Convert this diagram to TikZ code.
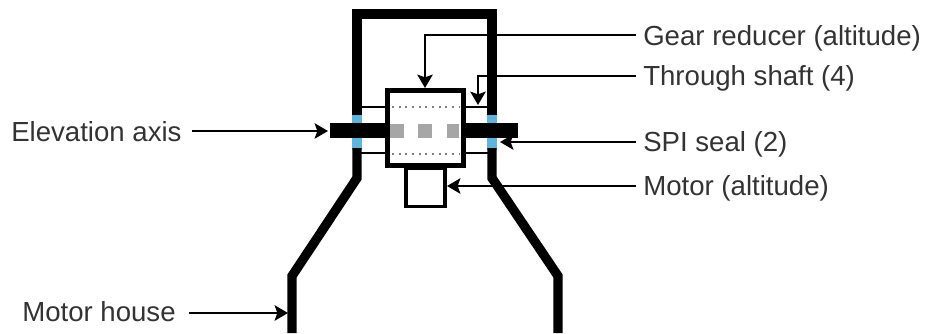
\documentclass[tikz,border=0pt]{standalone}
\usepackage{fontspec}
\setmainfont{Liberation Sans}
\usepackage{xcolor}
\usetikzlibrary{arrows.meta}
\definecolor{sealblue}{RGB}{95,180,220}

\begin{document}
\begin{tikzpicture}[x=0.75pt, y=-0.75pt,
                    wall/.style={line width=7pt, line cap=butt, miter limit=10},
                    thinwall/.style={line width=1.9pt},
                    pointer/.style={line width=1.8pt, -{Stealth[length=10pt, width=11.5pt, inset=2pt]}},
                    label/.style={anchor=base west, inner sep=0pt, font=\fontsize{20.7}{24}\selectfont, text=black!80}]
  \useasboundingbox (0, 0) rectangle (928, 333);
  % shaft and seals
  \draw[line width=7.5pt, sealblue] (357, 112) -- (357, 150);
  \draw[line width=7.5pt, sealblue] (492, 112) -- (492, 150);
  \draw[thinwall] (360, 107) -- (387, 107);
  \draw[thinwall] (360, 153) -- (387, 153);
  \draw[thinwall] (464, 107) -- (489, 107);
  \draw[thinwall] (464, 153) -- (489, 153);
  % motor house
  \draw[wall] (357, 115) -- (357, 14) -- (492, 14) -- (492, 115);
  \draw[wall] (357, 148) -- (357, 178) -- (292, 276) -- (292, 333);
  \draw[wall] (492, 148) -- (492, 178) -- (558, 276) -- (558, 333);
  \draw[line width=11pt] (330, 130.5) -- (387, 130.5);
  \draw[line width=11pt] (464, 130.5) -- (518, 130.5);
  % motor and gear reducer
  \node[draw, line width=2.8pt, minimum width=29pt, minimum height=29pt, inner sep=0pt, anchor=north] (motor) at (425.5, 166) {};
  \node[draw, line width=3.5pt, minimum width=57pt, minimum height=56pt, inner sep=0pt, fill=white] (reducer) at (425.5, 128) {};
  \draw[line width=1pt, black!50, dash pattern=on 1.5pt off 3.5pt] (392, 107) -- (459, 107);
  \draw[line width=1pt, black!50, dash pattern=on 1.5pt off 3.5pt] (392, 154) -- (459, 154);
  \draw[line width=10pt, black!35, dash pattern=on 10.5pt off 10.7pt] (390, 131) -- (459, 131);
  % labels
  \node[label] (gearlabel) at (643, 45) {Gear reducer (altitude)};
  \node[label] (shaftlabel) at (643, 85) {Through shaft (4)};
  \node[label] (seallabel) at (643, 151) {SPI seal (2)};
  \node[label] (motorlabel) at (643, 195) {Motor (altitude)};
  \node[label] (axislabel) at (11, 141) {Elevation axis};
  \node[label] (houselabel) at (22, 321) {Motor house};
  \coordinate (gearend) at (425, 88);
  \coordinate (shaftend) at (478, 105);
  \coordinate (sealend) at (500, 142);
  \coordinate (motorend) at (447, 186);
  \coordinate (axisend) at (328, 131);
  \coordinate (houseend) at (288, 313);
  % pointers
  \draw[pointer] (gearlabel.west |- 0, 35) ++(-7, 0) -| (gearend);
  \draw[pointer] (shaftlabel.west |- 0, 76) ++(-7, 0) -| (shaftend);
  \draw[pointer] (seallabel.west |- 0, 142) ++(-7, 0) -- (sealend);
  \draw[pointer] (motorlabel.west |- 0, 186) ++(-7, 0) -- (motorend);
  \draw[pointer] (axislabel.east |- 0, 131) ++(10, 0) -- (axisend);
  \draw[pointer] (houselabel.east |- 0, 313) ++(13, 0) -- (houseend);
\end{tikzpicture}
\end{document}
